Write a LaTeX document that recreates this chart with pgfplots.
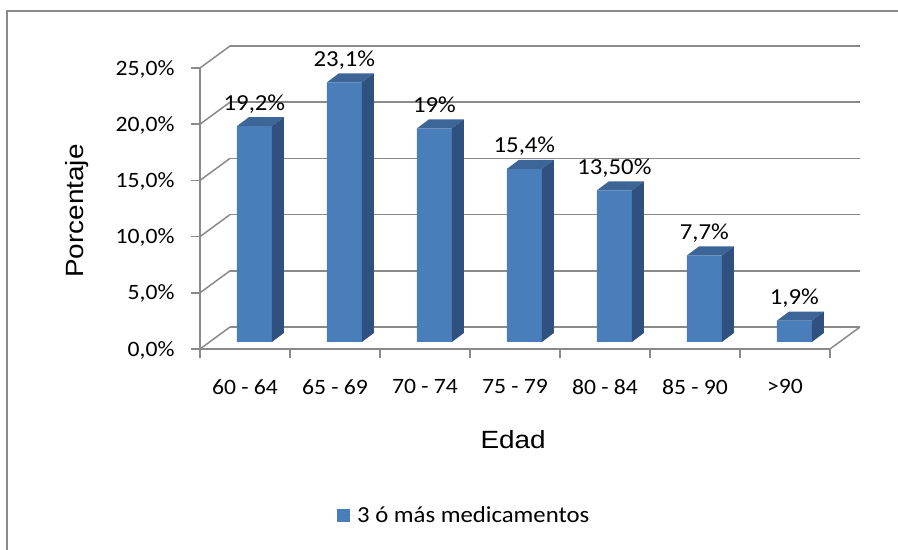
\documentclass[border=0pt]{standalone}
\usepackage{fontspec}
\usepackage{pgfplots}
\usepackage{pgfplotstable}
\pgfplotsset{compat=1.18}
\setmainfont[FakeStretch=1.08]{Carlito}
\newfontfamily\titlefont[FakeStretch=1.12]{Liberation Sans}

\definecolor{barfront}{HTML}{4A7EBB}
\definecolor{bartop}{HTML}{3C6598}
\definecolor{barside}{HTML}{30517F}
\definecolor{framegray}{HTML}{8A8A8A}

% share of patients with 3 or more drugs, by age group
\pgfplotstableread{
x v lab
0 19.2 {19,2\%}
1 23.1 {23,1\%}
2 19.0 {19\%}
3 15.4 {15,4\%}
4 13.5 {13,50\%}
5 7.7 {7,7\%}
6 1.9 {1,9\%}
}\edaddata

% top and side faces of a 3D column; the mark sits on the top front edge
\pgfdeclareplotmark{barfaces}{%
  \pgfmathsetlengthmacro{\barh}{\barval*11.24bp}%
  \pgfpathmoveto{\pgfpoint{-17.5bp}{0bp}}%
  \pgfpathlineto{\pgfpoint{17.5bp}{0bp}}%
  \pgfpathlineto{\pgfpoint{29.5bp}{9bp}}%
  \pgfpathlineto{\pgfpoint{-5.5bp}{9bp}}%
  \pgfpathclose
  \pgfsetfillcolor{bartop}%
  \pgfusepath{fill}%
  \pgfpathmoveto{\pgfpoint{17.5bp}{0bp}}%
  \pgfpathlineto{\pgfpoint{29.5bp}{9bp}}%
  \pgfpathlineto{\pgfpoint{29.5bp}{9bp-\barh}}%
  \pgfpathlineto{\pgfpoint{17.5bp}{-\barh}}%
  \pgfpathclose
  \pgfsetfillcolor{barside}%
  \pgfusepath{fill}%
}

\pgfplotsset{
  unitaxis/.style={x=90bp, y=11.24bp, xmin=-0.5, xmax=6.5, ymin=0, ymax=25,
    anchor=south west, clip=false},
}

\begin{document}
\begin{tikzpicture}
\path[use as bounding box] (0,0) rectangle (898bp,550bp);
\draw[framegray, line width=2.5bp] (7bp,0) -- (7bp,539bp) -- (898bp,539bp);

% back wall with the horizontal grid
\begin{axis}[unitaxis, at={(230bp,223bp)},
  axis line style={draw=none}, tick style={draw=none},
  xtick=\empty, ytick={0,5,...,25}, yticklabels={},
  ymajorgrids, grid style={framegray, line width=1.5bp}]
\addplot[draw=none] coordinates {(0,0)};
\end{axis}

% front frame: axes, ticks, side wall and floor edges
\begin{axis}[unitaxis, at={(200bp,201bp)},
  axis x line*=bottom, axis y line*=left,
  axis line style={framegray, line width=1.5bp},
  tick style={framegray, line width=1.5bp},
  tick align=outside, major tick length=9bp,
  ytick={0,5,...,25},
  yticklabels={{0,0\%},{5,0\%},{10,0\%},{15,0\%},{20,0\%},{25,0\%}},
  xtick={-0.5,0.5,...,6.5}, xticklabels={},
  extra x ticks={0,1,...,6},
  extra x tick labels={60 - 64,65 - 69,70 - 74,75 - 79,80 - 84,85 - 90,>90},
  extra x tick style={major tick length=0pt, tick style={draw=none},
    xticklabel style={yshift=-27bp}},
  tick label style={font=\fontsize{22}{26}\selectfont, text=black},
  yticklabel style={xshift=-13bp, yshift=-1bp},
  xlabel={\titlefont Edad},
  xlabel style={at={(rel axis cs:0.497,-0.324)}, anchor=center,
    font=\fontsize{25}{30}\selectfont},
  ylabel={\titlefont Porcentaje},
  ylabel style={at={(rel axis cs:-0.195,0.491)}, anchor=center,
    font=\fontsize{25}{30}\selectfont},
]
\addplot[draw=none] coordinates {(0,0)};
\pgfplotsinvokeforeach{0,5,10,15,20,25}{
  \draw[framegray, line width=1.5bp] (axis cs:-0.5,#1) -- ++(30bp,22bp);
}
\draw[framegray, line width=1.5bp] (axis cs:6.5,0) -- ++(30bp,22bp);
\end{axis}

% columns
\begin{axis}[unitaxis, at={(209.4bp,208bp)}, hide axis,
  legend style={at={(0.2025,-0.617)}, anchor=west, draw=none, fill=none,
    inner sep=0pt, font=\fontsize{23}{27}\selectfont},
  legend cell align=left]
\addplot[ybar, bar width=35bp, fill=barfront, draw=none,
  legend image code/.code={\fill[barfront] (0bp,-6.5bp) rectangle (13bp,6.5bp);
    \path (13bp,0bp) -- (18bp,0bp);},
  nodes near coords, point meta=explicit symbolic,
  every node near coord/.append style={font=\fontsize{23}{27}\selectfont,
    anchor=base, yshift=16bp, text=black}]
  table[x=x, y=v, meta=lab] {\edaddata};
\addlegendentry{3 ó más medicamentos}
\addplot[only marks, mark=barfaces,
  visualization depends on={\thisrow{v} \as \barval}]
  table[x=x, y=v] {\edaddata};
\end{axis}
\end{tikzpicture}
\end{document}
